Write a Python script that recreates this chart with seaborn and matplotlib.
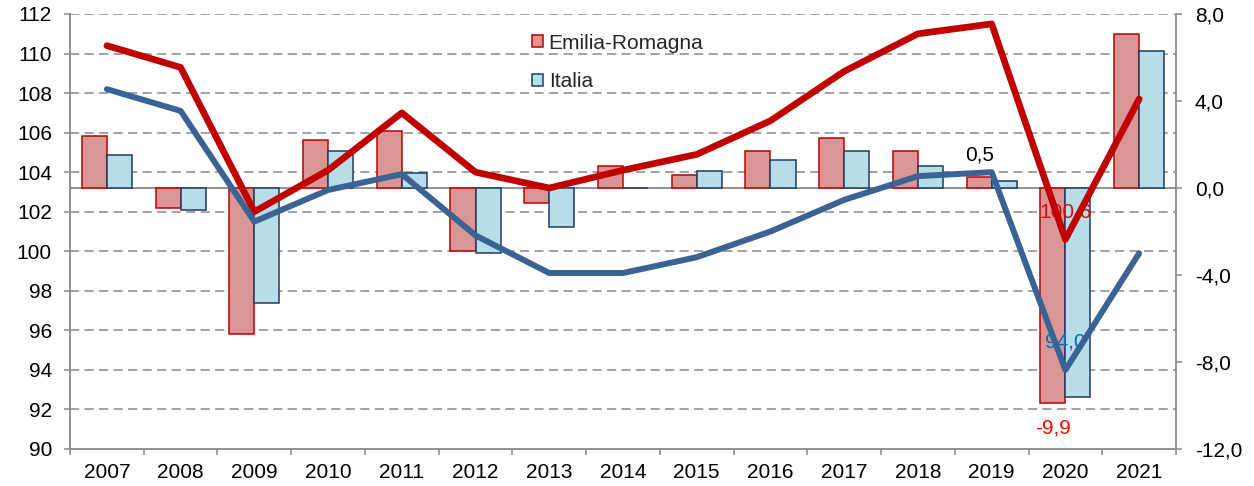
import matplotlib
matplotlib.use("Agg")
import matplotlib.pyplot as plt
from matplotlib.ticker import FixedLocator, FuncFormatter
import numpy as np
import pandas as pd
import seaborn as sns

# dati
anni = [str(a) for a in range(2007, 2022)]
er_indice = [110.4, 109.3, 102.0, 104.1, 107.0, 104.0, 103.2, 104.1, 104.9, 106.6, 109.1, 111.0, 111.5, 100.6, 107.7]
it_indice = [108.2, 107.1, 101.5, 103.1, 103.9, 100.8, 98.9, 98.9, 99.7, 101.0, 102.6, 103.8, 104.0, 94.0, 99.9]
er_var = [2.4, -0.9, -6.7, 2.2, 2.6, -2.9, -0.7, 1.0, 0.6, 1.7, 2.3, 1.7, 0.5, -9.9, 7.1]
it_var = [1.5, -1.0, -5.3, 1.7, 0.7, -3.0, -1.8, 0.0, 0.8, 1.3, 1.7, 1.0, 0.3, -9.6, 6.3]
aree = ["Emilia-Romagna", "Italia"]
left_ticks = list(range(90, 113, 2))
right_ticks = [-12, -8, -4, 0, 4, 8]

sns.set_theme(style="white")
plt.rcParams['font.family'] = ['Liberation Sans', 'DejaVu Sans']

GREY = "#898989"
ER_FILL, ER_EDGE, ER_LINE = "#D99694", "#C00000", "#C00000"
IT_FILL, IT_EDGE, IT_LINE = "#B7DEE8", "#1F3A64", "#3A6395"
FS = 15

df = pd.DataFrame({
    "anno": anni * 2,
    "var": er_var + it_var,
    "area": [aree[0]] * len(anni) + [aree[1]] * len(anni),
})

fig = plt.figure(figsize=(12.54, 4.86), dpi=100)
ax = fig.add_axes([70 / 1254, 1 - 449 / 486, 1106 / 1254, 435 / 486])
ax_bar = ax.twinx()
ax_line = ax.twinx()

# barre (asse destro)
sns.barplot(data=df, x="anno", y="var", hue="area", hue_order=aree,
            palette=[ER_FILL, IT_FILL], width=0.68, ax=ax_bar, legend=False,
            linewidth=1.1, saturation=1)
for cont, ec in zip(ax_bar.containers, [ER_EDGE, IT_EDGE]):
    for p in cont:
        p.set_edgecolor(ec)
        p.set_zorder(3)
ax_bar.axhline(0, color=GREY, lw=1.3, zorder=2)
ax_bar.set_ylim(-12, 8)

# linee (asse sinistro)
x = np.arange(len(anni))
sns.lineplot(x=x, y=er_indice, ax=ax_line, color=ER_LINE, lw=4.8,
             solid_capstyle="round", solid_joinstyle="round")
sns.lineplot(x=x, y=it_indice, ax=ax_line, color=IT_LINE, lw=4.3,
             solid_capstyle="round", solid_joinstyle="round")
ax_line.set_ylim(90, 112)
ax.set_ylim(90, 112)

# etichette
er_bars = ax_bar.containers[0]
b = er_bars[12]
ax_bar.annotate(f"{er_var[12]:.1f}".replace(".", ","),
                xy=(b.get_x() + b.get_width() / 2, er_var[12]),
                xytext=(0, 22), textcoords="offset pixels",
                ha="center", va="center", fontsize=FS, color="black", zorder=6)
b = er_bars[13]
ax_bar.annotate(f"{er_var[13]:.1f}".replace(".", ","),
                xy=(b.get_x() + b.get_width() / 2, er_var[13]),
                xytext=(0, -25), textcoords="offset pixels",
                ha="center", va="center", fontsize=FS, color="#FF0000", zorder=6)
ax_bar.annotate(f"{er_indice[13]:.1f}".replace(".", ","),
                xy=(13, er_indice[13]), xycoords=ax_line.transData,
                xytext=(0, 27), textcoords="offset pixels",
                ha="center", va="center", fontsize=FS, color="#D01010", zorder=6)
ax_bar.annotate(f"{it_indice[13]:.1f}".replace(".", ","),
                xy=(13, it_indice[13]), xycoords=ax_line.transData,
                xytext=(0, 28), textcoords="offset pixels",
                ha="center", va="center", fontsize=FS, color="#0070C0", zorder=6)

# griglia
for v in left_ticks[1:]:
    ax.axhline(v, color=GREY, lw=1.1, ls=(0, (6, 3.5)), zorder=0)

# assi
ax.set_xlim(-0.5, len(anni) - 0.5)
ax.xaxis.set_major_locator(FixedLocator(x))
ax.xaxis.set_major_formatter(FuncFormatter(lambda v, p: anni[int(round(v))]))
ax.xaxis.set_minor_locator(FixedLocator(np.arange(len(anni) + 1) - 0.5))
ax.tick_params(axis="x", which="major", length=0, pad=10, labelsize=FS, colors="black")
ax.tick_params(axis="x", which="minor", bottom=True, length=4.5, width=1.1, color=GREY)
ax.set_yticks(left_ticks)
ax.tick_params(axis="y", left=True, length=4.5, width=1.1, color=GREY,
               pad=8.5, labelsize=FS, labelcolor="black")

ax_bar.set_yticks(right_ticks)
ax_bar.yaxis.set_major_formatter(FuncFormatter(lambda v, p: f"{v:.1f}".replace(".", ",")))
ax_bar.tick_params(axis="y", right=True, length=4.5, width=1.1, color=GREY,
                   pad=9, labelsize=FS, labelcolor="black")
ax_line.yaxis.set_visible(False)

for a in (ax, ax_bar, ax_line):
    a.set_xlabel("")
    a.set_ylabel("")
    for s in a.spines.values():
        s.set_visible(False)
ax.spines["left"].set_visible(True)
ax.spines["bottom"].set_visible(True)
ax_bar.spines["right"].set_visible(True)
for s in (ax.spines["left"], ax.spines["bottom"], ax_bar.spines["right"]):
    s.set_color(GREY)
    s.set_linewidth(1.3)

ax_bar.legend(handles=ax_bar.containers, labels=aree, loc="upper left",
              bbox_to_anchor=(0.4177, 0.955), frameon=False, fontsize=FS,
              handlelength=0.55, handleheight=0.55, handletextpad=0.25,
              labelspacing=0.94, borderpad=0, borderaxespad=0)

fig.savefig("out.png", dpi=100)
